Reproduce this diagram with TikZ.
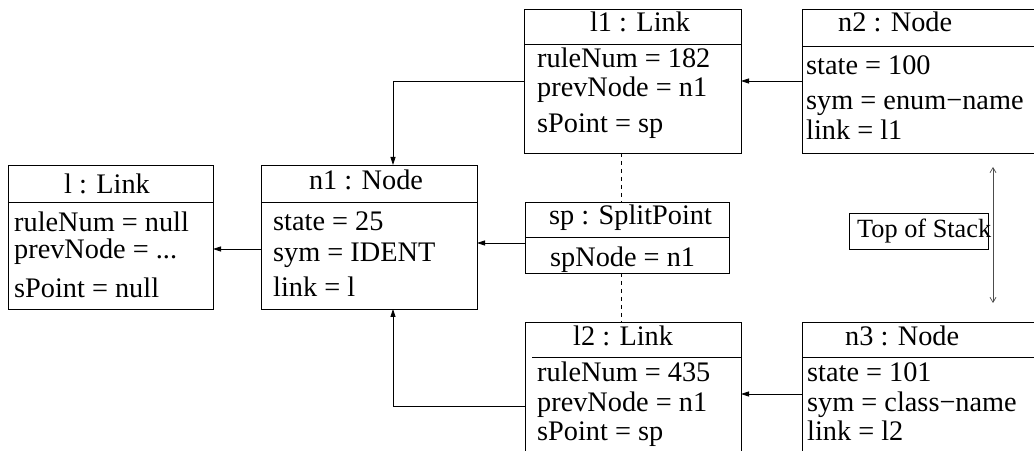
\documentclass[tikz,border=0pt]{standalone}
\usepackage{fontspec}
\setmainfont{Liberation Serif}
\usetikzlibrary{arrows.meta}

\tikzset{
	objbox/.style = {draw, line width=0.8bp, inner sep=0pt, outer sep=0pt},
	attr/.style = {anchor=base west, inner sep=0pt},
	head/.style = {anchor=base, inner sep=0pt},
	ref/.style = {line width=0.8bp, -{Triangle[length=8bp,width=5bp]}},
	stackarrow/.style = {line width=0.7bp, gray!60!black, {Straight Barb[length=5bp,width=6bp]}-{Straight Barb[length=5bp,width=6bp]}}
}

\begin{document}
\begin{tikzpicture} [x=1bp, y=-1bp, font=\fontsize{28.3bp}{32bp}\selectfont]
	\useasboundingbox (0,0) rectangle (1034,451);
	\clip (0,0) rectangle (1034,451);
	\fill [white] (0,0) rectangle (1034,451);

	\node [objbox, minimum width=205bp, minimum height=144bp] (l) at (110.5,237) {};
	\draw [line width=0.8bp] (l.west |- 0,202) -- (l.east |- 0,202);
	\node [head] at (107,194) {l : Link};
	\node [attr] at (14,232) {ruleNum = null};
	\node [attr] at (14,259) {prevNode = ...};
	\node [attr] at (14,298) {sPoint = null};

	\node [objbox, minimum width=216bp, minimum height=144bp] (n1) at (369,237) {};
	\draw [line width=0.8bp] (n1.west |- 0,202) -- (n1.east |- 0,202);
	\node [head] at (366,190) {n1 : Node};
	\node [attr] at (273,231) {state = 25};
	\node [attr] at (273,262) {sym = IDENT};
	\node [attr] at (273,297) {link = l};

	\node [objbox, minimum width=217bp, minimum height=144bp] (l1) at (632.5,81) {};
	\draw [line width=0.8bp] (l1.west |- 0,44) -- (l1.east |- 0,44);
	\node [head] at (640,32) {l1 : Link};
	\node [attr] at (537,68) {ruleNum = 182};
	\node [attr] at (537,97) {prevNode = n1};
	\node [attr] at (537,133) {sPoint = sp};

	\node [objbox, minimum width=258bp, minimum height=144bp] (n2) at (931,81) {};
	\draw [line width=0.8bp] (n2.west |- 0,46) -- (n2.east |- 0,46);
	\node [attr] at (838,32) {n2 : Node};
	\node [attr] at (806,75) {state = 100};
	\node [attr] at (806,110) {sym = enum−name};
	\node [attr] at (806,140) {link = l1};

	\node [objbox, minimum width=204bp, minimum height=71bp] (sp) at (627,237.5) {};
	\draw [line width=0.8bp] (sp.west |- 0,237) -- (sp.east |- 0,237);
	\node [attr] at (549,225) {sp : SplitPoint};
	\node [attr] at (550,267) {spNode = n1};

	\node [objbox, minimum width=216bp, minimum height=148bp] (l2) at (633,396) {};
	\draw [line width=0.8bp] (532,357) -- (l2.east |- 0,357);
	\node [attr] at (573,346) {l2 : Link};
	\node [attr] at (537,382) {ruleNum = 435};
	\node [attr] at (537,412) {prevNode = n1};
	\node [attr] at (537,440) {sPoint = sp};

	\node [objbox, minimum width=258bp, minimum height=148bp] (n3) at (931,396) {};
	\draw [line width=0.8bp] (n3.west |- 0,357) -- (n3.east |- 0,357);
	\node [attr] at (845,346) {n3 : Node};
	\node [attr] at (807,382) {state = 101};
	\node [attr] at (807,412) {sym = class−name};
	\node [attr] at (807,440) {link = l2};

	\node [objbox, line width=0.7bp, minimum width=139bp, minimum height=36bp] (tos) at (918.5,231) {};
	\node [attr, font=\fontsize{26.3bp}{30bp}\selectfont] at (857,238) {Top of Stack};

	\draw [ref] (n2.west |- 0,81) -- (l1.east |- 0,81);
	\draw [ref] (l1.west |- 0,81) -| ([xshift=24bp]n1.north);
	\draw [ref] (l2.west |- 0,406) -| ([xshift=24bp]n1.south);
	\draw [ref] (n1.west |- 0,249) -- (l.east |- 0,249);
	\draw [ref] (sp.west |- 0,243) -- (n1.east |- 0,243);
	\draw [ref] (n3.west |- 0,394) -- (l2.east |- 0,394);
	\draw [dashed, line width=0.7bp, dash pattern=on 4bp off 4bp] (l1.south -| 621,0) -- (sp.north -| 621,0);
	\draw [dashed, line width=0.7bp, dash pattern=on 4bp off 4bp] (sp.south -| 621,0) -- (l2.north -| 621,0);

	\coordinate (tosTop) at (993,167);
	\coordinate (tosBot) at (993,303);
	\draw [stackarrow] (tosTop) -- (tosBot);
\end{tikzpicture}
\end{document}
